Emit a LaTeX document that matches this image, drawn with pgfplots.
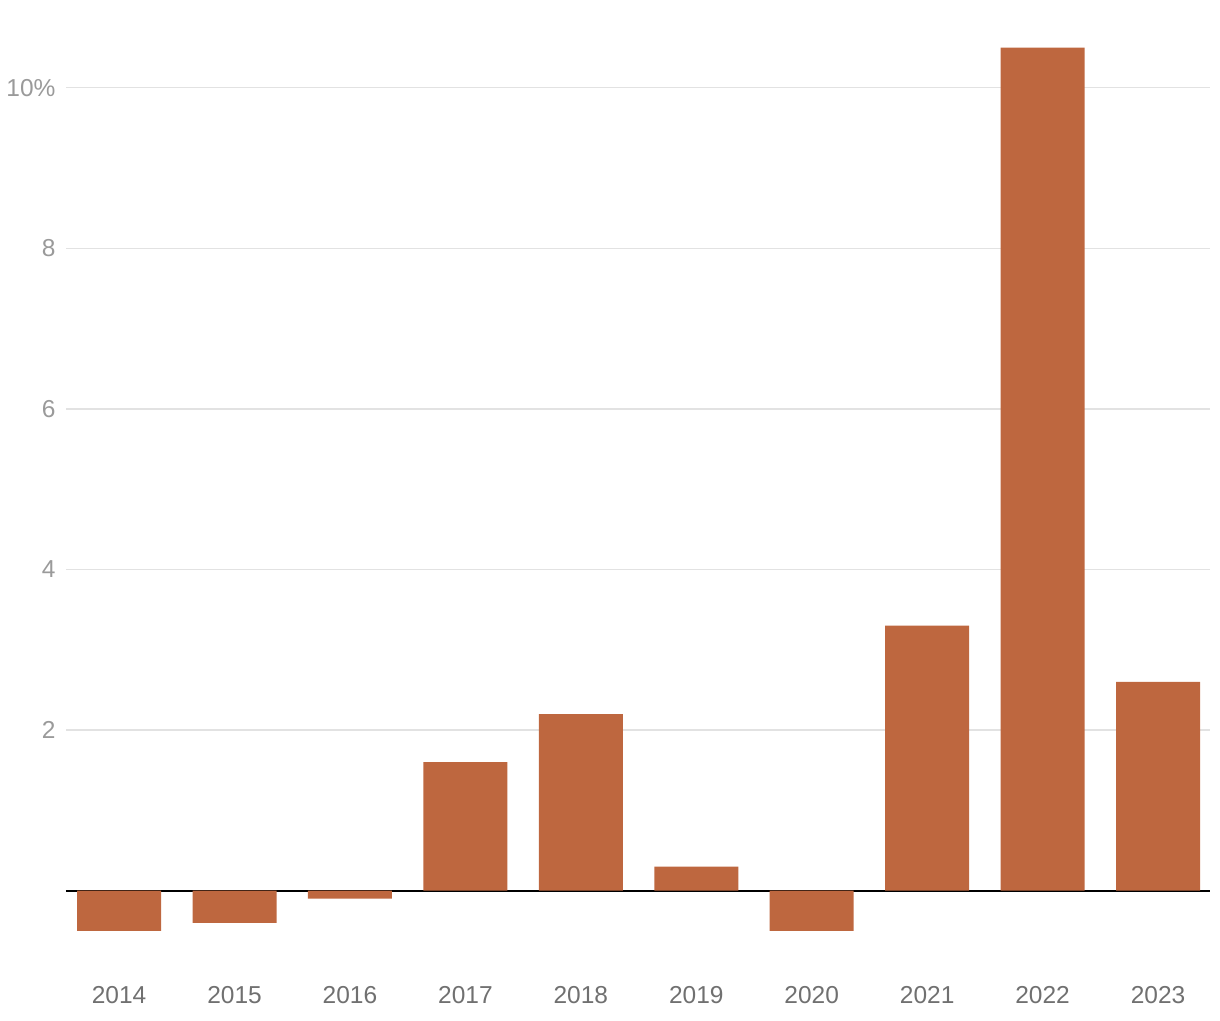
\documentclass[border=0pt]{standalone}
\usepackage{pgfplots}
\pgfplotsset{compat=1.18}
\usepackage{fontspec}
\setmainfont{Liberation Sans}
\definecolor{barc}{HTML}{BE673F}
\definecolor{gridc}{HTML}{E2E2E2}
\definecolor{ylab}{HTML}{9A9A9A}
\definecolor{xlab}{HTML}{707070}
\begin{document}
\begin{tikzpicture}
\begin{axis}[
  at={(0,0)}, anchor=south west,
  scale only axis,
  width=1144pt, height=927.5pt,
  xmin=-0.46, xmax=9.45,
  ymin=-0.95, ymax=10.6,
  axis line style={draw=none},
  tick style={draw=none},
  xtick={0,...,9},
  xticklabels={2014,2015,2016,2017,2018,2019,2020,2021,2022,2023},
  ytick={2,4,6,8,10},
  yticklabels={2,4,6,8,10\%},
  ymajorgrids,
  grid style={gridc, line width=1.5pt},
  extra y ticks={0},
  extra y tick labels={},
  extra y tick style={grid style={black, line width=2pt}},
  ticklabel style={font=\fontsize{24.5}{28}\selectfont},
  yticklabel style={text=ylab, xshift=-7pt},
  xticklabel style={text=xlab, yshift=-16pt},
  /pgf/number format/assume math mode=true,
  clip=false,
]
\addplot[ybar, bar width=84pt, fill=barc, draw=none] coordinates {
(0,-0.5) (1,-0.4) (2,-0.1) (3,1.6) (4,2.2) (5,0.3) (6,-0.5) (7,3.3) (8,10.5) (9,2.6)
};
\end{axis}
\path[use as bounding box] (-66pt,-53pt) rectangle (1154pt,967pt);
\end{tikzpicture}
\end{document}
